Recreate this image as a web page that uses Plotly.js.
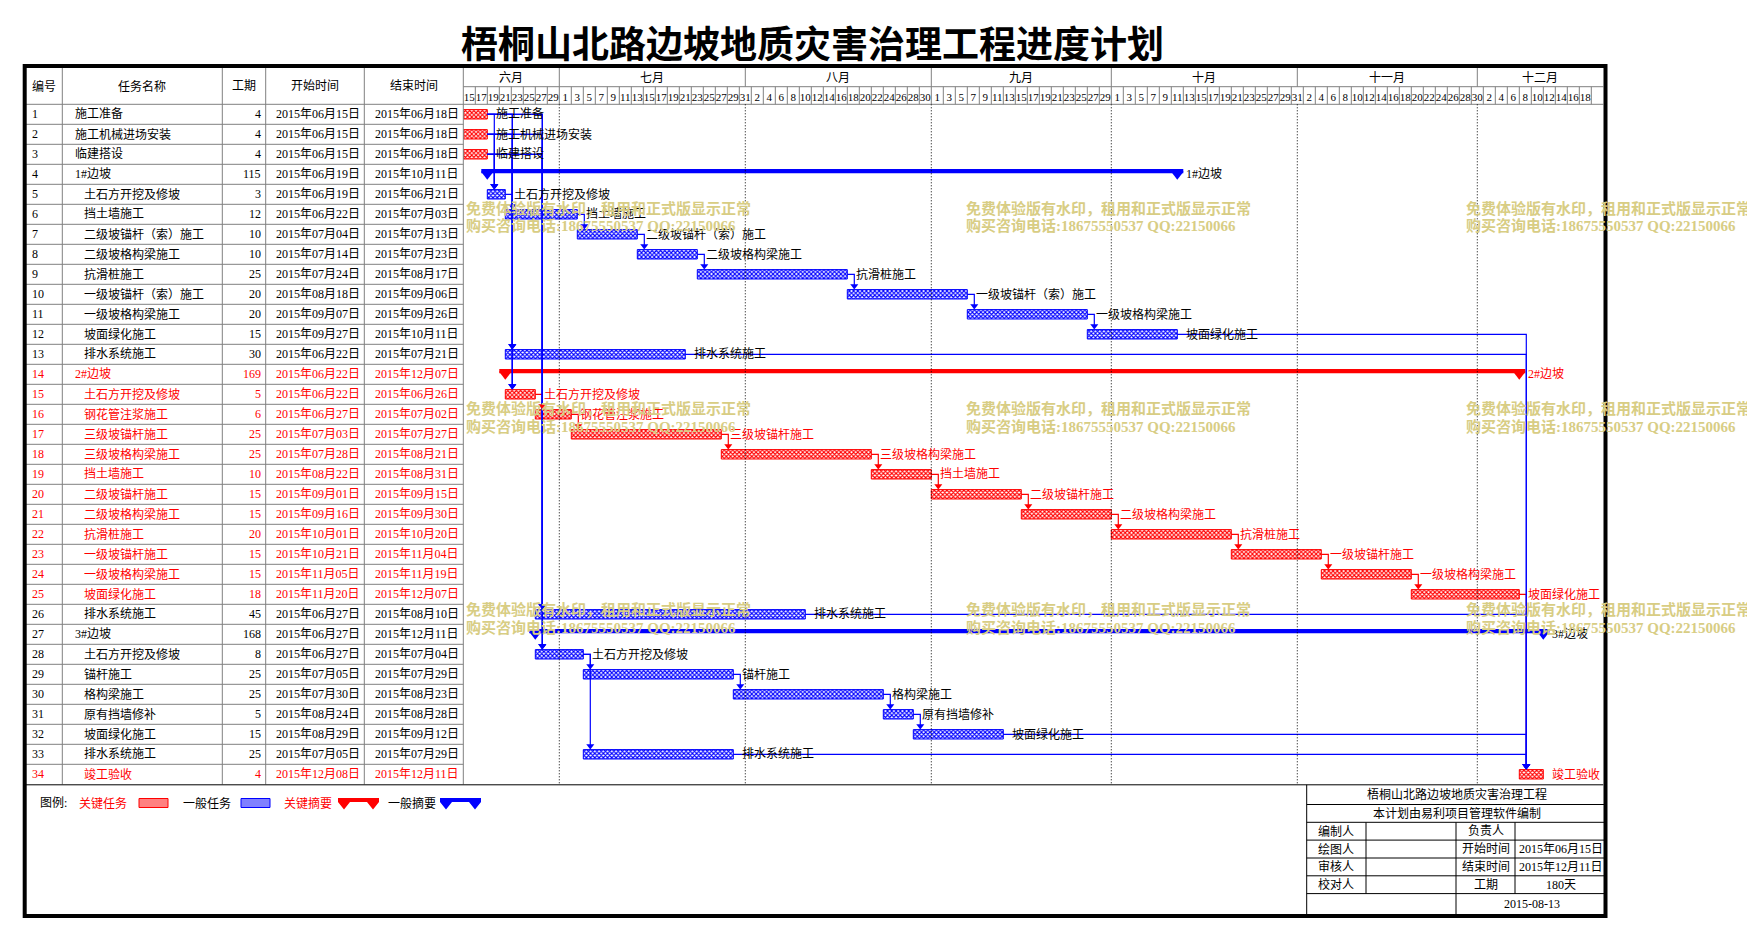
<!DOCTYPE html>
<html>
<head>
<meta charset="utf-8">
<script src="https://cdn.plot.ly/plotly-3.0.1.min.js"></script>
<style>html,body{margin:0;padding:0;background:#fff;}#chart{width:1747px;height:939px;}</style>
</head>
<body>
<div id="chart"></div>
<script>
// ---------------- DATA ----------------
const chartTitle = '梧桐山北路边坡地质灾害治理工程进度计划';
const tableHeaders = ['编号', '任务名称', '工期', '开始时间', '结束时间'];
const taskIds = [1,2,3,4,5,6,7,8,9,10,11,12,13,14,15,16,17,18,19,20,21,22,23,24,25,26,27,28,29,30,31,32,33,34];
const taskNames = ['施工准备','施工机械进场安装','临建搭设','1#边坡','土石方开挖及修坡','挡土墙施工',
  '二级坡锚杆（索）施工','二级坡格构梁施工','抗滑桩施工','一级坡锚杆（索）施工','一级坡格构梁施工',
  '坡面绿化施工','排水系统施工','2#边坡','土石方开挖及修坡','钢花管注浆施工','三级坡锚杆施工',
  '三级坡格构梁施工','挡土墙施工','二级坡锚杆施工','二级坡格构梁施工','抗滑桩施工','一级坡锚杆施工',
  '一级坡格构梁施工','坡面绿化施工','排水系统施工','3#边坡','土石方开挖及修坡','锚杆施工','格构梁施工',
  '原有挡墙修补','坡面绿化施工','排水系统施工','竣工验收'];
const durations = [4,4,4,115,3,12,10,10,25,20,20,15,30,169,5,6,25,25,10,15,15,20,15,15,18,45,168,8,25,25,5,15,25,4];
const startDates = ['2015-06-15','2015-06-15','2015-06-15','2015-06-19','2015-06-19','2015-06-22','2015-07-04',
  '2015-07-14','2015-07-24','2015-08-18','2015-09-07','2015-09-27','2015-06-22','2015-06-22','2015-06-22',
  '2015-06-27','2015-07-03','2015-07-28','2015-08-22','2015-09-01','2015-09-16','2015-10-01','2015-10-21',
  '2015-11-05','2015-11-20','2015-06-27','2015-06-27','2015-06-27','2015-07-05','2015-07-30','2015-08-24',
  '2015-08-29','2015-07-05','2015-12-08'];
const endDates = ['2015-06-18','2015-06-18','2015-06-18','2015-10-11','2015-06-21','2015-07-03','2015-07-13',
  '2015-07-23','2015-08-17','2015-09-06','2015-09-26','2015-10-11','2015-07-21','2015-12-07','2015-06-26',
  '2015-07-02','2015-07-27','2015-08-21','2015-08-31','2015-09-15','2015-09-30','2015-10-20','2015-11-04',
  '2015-11-19','2015-12-07','2015-08-10','2015-12-11','2015-07-04','2015-07-29','2015-08-23','2015-08-28',
  '2015-09-12','2015-07-29','2015-12-11'];
const summaryIds = [4, 14, 27];
const topLevelIds = [1, 2, 3, 4, 14, 27];
const criticalTextIds = [14,15,16,17,18,19,20,21,22,23,24,25,34];
const criticalBarIds = [1,2,3,14,15,16,17,18,19,20,21,22,23,24,25,34];
const linkFrom = [1,1,1,1,1,2,2,2,2,2,3,3,3,3,3,5,6,7,8,9,10,11,12,13,15,16,17,18,19,20,21,22,23,24,25,26,28,28,29,30,31,32,33];
const linkTo   = [5,13,15,26,28,5,13,15,26,28,5,13,15,26,28,6,7,8,9,10,11,12,34,34,16,17,18,19,20,21,22,23,24,25,34,34,29,33,30,31,32,34,34];
const monthNames = ['六月','七月','八月','九月','十月','十一月','十二月'];
const monthStarts = ['2015-06-01','2015-07-01','2015-08-01','2015-09-01','2015-10-01','2015-11-01','2015-12-01'];
const viewStart = '2015-06-15';
const viewEnd = '2015-12-22';
const lastLabelledDay = '2015-12-18';
const legendTitle = '图例:';
const legendLabels = ['关键任务', '一般任务', '关键摘要', '一般摘要'];
const infoTitle = '梧桐山北路边坡地质灾害治理工程';
const infoNote = '本计划由易利项目管理软件编制';
const infoLabelsLeft = ['编制人', '绘图人', '审核人', '校对人'];
const infoLabelsRight = ['负责人', '开始时间', '结束时间', '工期'];
const infoValuesRight = ['', '2015年06月15日', '2015年12月11日', '180天'];
const infoDate = '2015-08-13';
const watermarkLine1 = '免费体验版有水印，租用和正式版显示正常';
const watermarkLine2 = '购买咨询电话:18675550537 QQ:22150066';

// ---------------- HELPERS ----------------
const W = 1747, H = 939;
const px = x => x / W;
const py = y => 1 - y / H;
const DAY = 86400000;
const toMs = s => Date.parse(s + 'T00:00:00Z');
const fmt = ms => new Date(ms).toISOString().slice(0, 19).replace('T', ' ');
const RED = '#ff0000', BLUE = '#0000ff', GRAY = '#808080', BLACK = '#000000';
const FONT = 'Liberation Serif, "Noto Sans CJK SC", serif';
const CJK = '"Noto Sans CJK SC", sans-serif';

const X_LEFT = 463.3, X_RIGHT = 1603.3;
const Y_TOP = 104.3, ROW_H = 20;
const nRows = taskIds.length;
const Y_BOT = Y_TOP + ROW_H * nRows;
const spanDays = (toMs(viewEnd) - toMs(viewStart)) / DAY;
const pxPerDay = (X_RIGHT - X_LEFT) / spanDays;

const startMs = startDates.map(toMs);
const endExcl = endDates.map(s => toMs(s) + DAY);
const isSummary = taskIds.map(id => summaryIds.includes(id));
const textCrit = taskIds.map(id => criticalTextIds.includes(id));
const barCrit = taskIds.map(id => criticalBarIds.includes(id));
const idx = id => taskIds.indexOf(id);
const tableDate = s => s.slice(0, 4) + '年' + s.slice(5, 7) + '月' + s.slice(8, 10) + '日';

// ---------------- TRACES ----------------
const traces = [];
function taskBars(crit) {
  const sel = taskIds.map((_, i) => i).filter(i => !isSummary[i] && barCrit[i] === crit);
  const col = crit ? RED : BLUE;
  return {
    type: 'bar', orientation: 'h', xaxis: 'x', yaxis: 'y',
    y: sel.map(i => taskIds[i]),
    base: sel.map(i => startDates[i]),
    x: sel.map(i => durations[i] * DAY),
    width: 0.47,
    marker: { color: '#ffffff', line: { color: col, width: 1 },
      pattern: { shape: 'x', fgcolor: col, bgcolor: '#ffffff', size: 3, solidity: 0.6, fillmode: 'replace' } },
    hoverinfo: 'skip', showlegend: false
  };
}
function summaryBars(crit) {
  const sel = taskIds.map((_, i) => i).filter(i => isSummary[i] && barCrit[i] === crit);
  const col = crit ? RED : BLUE;
  return [{
    type: 'bar', orientation: 'h', xaxis: 'x', yaxis: 'y',
    y: sel.map(i => taskIds[i]),
    base: sel.map(i => fmt(startMs[i] - DAY)),
    x: sel.map(i => (durations[i] + 2) * DAY),
    width: 0.22, offset: -0.27,
    marker: { color: col, line: { width: 0 } },
    hoverinfo: 'skip', showlegend: false
  }, {
    type: 'scatter', mode: 'markers', xaxis: 'x', yaxis: 'y',
    x: sel.flatMap(i => [startDates[i], fmt(endExcl[i])]),
    y: sel.flatMap(i => [taskIds[i], taskIds[i]]),
    marker: { symbol: 'triangle-down', size: 11, color: col, line: { width: 0 } },
    hoverinfo: 'skip', showlegend: false
  }];
}
traces.push(taskBars(true), taskBars(false));
traces.push(...summaryBars(true), ...summaryBars(false));

// dependency links
const shiftMs = 7 / pxPerDay * DAY;
const linkSets = { red: { x: [], y: [], ax: [], ay: [] }, blue: { x: [], y: [], ax: [], ay: [] } };
linkFrom.forEach((a, k) => {
  const b = linkTo[k];
  const ia = idx(a), ib = idx(b);
  const set = (textCrit[ia] && textCrit[ib]) ? linkSets.red : linkSets.blue;
  const xa = fmt(endExcl[ia]);
  const xb = fmt(startMs[ib] + shiftMs);
  const yb = taskIds[ib] - 0.41;
  set.x.push(xa, xb, xb, null);
  set.y.push(taskIds[ia], taskIds[ia], yb, null);
  set.ax.push(xb); set.ay.push(yb);
});
[['red', RED], ['blue', BLUE]].forEach(([k, col]) => {
  traces.push({ type: 'scatter', mode: 'lines', xaxis: 'x', yaxis: 'y', x: linkSets[k].x, y: linkSets[k].y,
    line: { color: col, width: 1.2 }, hoverinfo: 'skip', showlegend: false, connectgaps: false });
});
[['red', RED], ['blue', BLUE]].forEach(([k, col]) => {
  traces.push({ type: 'scatter', mode: 'markers', xaxis: 'x', yaxis: 'y', x: linkSets[k].ax, y: linkSets[k].ay,
    marker: { symbol: 'triangle-down', size: 7, color: col, line: { width: 0 } }, hoverinfo: 'skip', showlegend: false });
});

// ---------------- AXIS TICKS (day row) ----------------
const tickVals = [], tickText = [];
for (let t = toMs(viewStart); t <= toMs(lastLabelledDay); t += 2 * DAY) {
  tickVals.push(fmt(t + DAY));
  tickText.push(String(new Date(t).getUTCDate()));
}

// ---------------- SHAPES ----------------
const shapes = [];
function hline(y, x0, x1, color, width) {
  shapes.push({ type: 'line', xref: 'paper', yref: 'paper', x0: px(x0), x1: px(x1), y0: py(y), y1: py(y),
    line: { color: color, width: width || 1 } });
}
function vline(x, y0, y1, color, width) {
  shapes.push({ type: 'line', xref: 'paper', yref: 'paper', x0: px(x), x1: px(x), y0: py(y0), y1: py(y1),
    line: { color: color, width: width || 1 } });
}
function vlineDate(d, y0, y1, color, dash) {
  shapes.push({ type: 'line', xref: 'x', yref: 'paper', x0: d, x1: d, y0: py(y0), y1: py(y1),
    line: { color: color, width: 1, dash: dash || 'solid' } });
}
// table grid
[62.3, 222.3, 265.7, 364.3, X_LEFT].forEach(x => vline(x, 68, Y_BOT, GRAY));
for (let k = 1; k < nRows; k++) hline(Y_TOP + k * ROW_H, 26, X_LEFT, GRAY);
hline(Y_TOP, 26, X_RIGHT, GRAY);
hline(86.7, X_LEFT, X_RIGHT, GRAY);
// month lines and dotted month lines
monthStarts.slice(1).forEach(m => {
  vlineDate(m, 68, 86.7, GRAY);
  vlineDate(m, Y_TOP, Y_BOT, BLACK, '1px,2px');
});
// day cells
for (let t = toMs(viewStart) + 2 * DAY; t < toMs(viewEnd); t += 2 * DAY) vlineDate(fmt(t), 86.7, Y_TOP, GRAY);
// bottom separator
hline(Y_BOT + 0.5, 26, X_RIGHT, BLACK, 1);
// info box
const IB = { x0: 1306.7, c1: 1366, c2: 1456, c3: 1515, x1: 1605 };
const ibRows = [785, 804.5, 822.3, 840.1, 858, 875.8, 893.6, 915];
vline(IB.x0, Y_BOT + 0.5, 915, BLACK);
ibRows.slice(1, 7).forEach(y => hline(y, IB.x0, IB.x1, BLACK));
vline(IB.c1, 822.3, 893.6, BLACK);
vline(IB.c3, 822.3, 893.6, BLACK);
vline(IB.c2, 822.3, 915, BLACK);
// frame
shapes.push({ type: 'rect', xref: 'paper', yref: 'paper', x0: px(24.7), x1: px(1605.5), y0: py(66), y1: py(916),
  line: { color: BLACK, width: 4 }, fillcolor: 'rgba(0,0,0,0)' });
// legend swatches
function pathPx(pts) {
  return 'M' + pts.map(p => px(p[0]) + ',' + py(p[1])).join(' L') + ' Z';
}
function legendTask(x0, col, fill) {
  shapes.push({ type: 'rect', xref: 'paper', yref: 'paper', x0: px(x0), x1: px(x0 + 29), y0: py(798.5), y1: py(807.5),
    line: { color: col, width: 1 }, fillcolor: fill });
}
function legendSummary(x0, col) {
  const x1 = x0 + 41;
  shapes.push({ type: 'path', xref: 'paper', yref: 'paper', line: { width: 0 }, fillcolor: col,
    path: pathPx([[x0, 798], [x1, 798], [x1, 802], [x1 - 6, 809.5], [x1 - 12, 802], [x0 + 12, 802], [x0 + 6, 809.5], [x0, 802]]) });
}
legendTask(139, RED, '#ff8080');
legendTask(241, BLUE, '#8080ff');
legendSummary(338, RED);
legendSummary(440, BLUE);

// ---------------- ANNOTATIONS ----------------
const ann = [];
function txt(text, x, y, opts) {
  opts = opts || {};
  ann.push(Object.assign({ text: text, x: x, y: y, xref: 'paper', yref: 'paper', showarrow: false,
    xanchor: 'center', yanchor: 'middle', font: { family: FONT, size: 12, color: BLACK } }, opts));
}
// title
txt(chartTitle, px(812), py(42), { font: { family: CJK, size: 37, color: BLACK, weight: 700 } });
// table header
const headerX = [44, 142.3, 244, 315, 413.8];
tableHeaders.forEach((h, k) => txt(h, px(headerX[k]), py(86)));
// table rows
taskIds.forEach((id, i) => {
  const col = textCrit[i] ? RED : BLACK;
  const f = { family: FONT, size: 12, color: col };
  const rowY = { yref: 'y' };
  txt(String(id), px(30), id, Object.assign({ xanchor: 'left', font: f }, rowY));
  txt(taskNames[i], px(topLevelIds.includes(id) ? 73 : 82), id, Object.assign({ xanchor: 'left', font: f }, rowY));
  txt(String(durations[i]), px(263), id, Object.assign({ xanchor: 'right', font: f }, rowY));
  txt(tableDate(startDates[i]), px(361.5), id, Object.assign({ xanchor: 'right', font: f }, rowY));
  txt(tableDate(endDates[i]), px(460.5), id, Object.assign({ xanchor: 'right', font: f }, rowY));
  // bar label
  ann.push({ text: taskNames[i], x: fmt(endExcl[i]), y: id, xref: 'x', yref: 'y', xanchor: 'left', yanchor: 'middle',
    xshift: 7, showarrow: false, font: f });
});
// month labels
monthNames.forEach((m, k) => {
  const a = Math.max(toMs(monthStarts[k]), toMs(viewStart));
  const b = k + 1 < monthStarts.length ? toMs(monthStarts[k + 1]) : toMs(viewEnd);
  ann.push({ text: m, x: fmt((a + b) / 2), y: py(77.5), xref: 'x', yref: 'paper', showarrow: false,
    xanchor: 'center', yanchor: 'middle', font: { family: FONT, size: 12, color: BLACK } });
});
// legend texts
txt(legendTitle, px(38), py(803), { xanchor: 'left' });
const legendX = [77, 181, 282, 386];
legendLabels.forEach((l, k) => txt(l, px(legendX[k]), py(803), { xanchor: 'left',
  font: { family: FONT, size: 12, color: k % 2 === 0 ? RED : BLACK } }));
// info box texts
const ibMid = (a, b) => (a + b) / 2;
txt(infoTitle, px(ibMid(IB.x0, 1607)), py(ibMid(ibRows[0], ibRows[1])));
txt(infoNote, px(ibMid(IB.x0, 1607)), py(ibMid(ibRows[1], ibRows[2])));
infoLabelsLeft.forEach((l, k) => {
  const yc = py(ibMid(ibRows[2 + k], ibRows[3 + k]));
  txt(l, px(ibMid(IB.x0, IB.c1)), yc);
  txt(infoLabelsRight[k], px(ibMid(IB.c2, IB.c3)), yc);
  txt(infoValuesRight[k], px(ibMid(IB.c3, 1607)), yc);
});
txt(infoDate, px(ibMid(IB.c2, 1607)), py(ibMid(ibRows[6], ibRows[7])));
// watermarks
const wmCols = [464, 964, 1464];
const wmRows = [208, 408.5, 609];
wmRows.forEach(y => wmCols.forEach(x => {
  const f = { family: FONT, size: 15, color: 'rgb(216,205,132)', weight: 700 };
  txt(watermarkLine1, px(x), py(y), { xanchor: 'left', font: f });
  txt(watermarkLine2, px(x), py(y + 18), { xanchor: 'left', font: f });
}));

// ---------------- LAYOUT ----------------
const layout = {
  width: W, height: H, autosize: false,
  margin: { l: 0, r: 0, t: 0, b: 0, pad: 0 },
  paper_bgcolor: '#ffffff', plot_bgcolor: 'rgba(0,0,0,0)',
  showlegend: false, hovermode: false, barmode: 'overlay',
  xaxis: { type: 'date', domain: [px(X_LEFT), px(X_RIGHT)], range: [viewStart, viewEnd], side: 'top',
    tickmode: 'array', tickvals: tickVals, ticktext: tickText, tickangle: 0, ticks: '', ticklen: 0,
    showgrid: false, zeroline: false, showline: false, fixedrange: true,
    tickfont: { family: 'Liberation Serif, serif', size: 11, color: BLACK } },
  yaxis: { domain: [py(Y_BOT), py(Y_TOP)], range: [nRows + 0.5, 0.5], visible: false, fixedrange: true },
  shapes: shapes, annotations: ann
};
Plotly.newPlot('chart', traces, layout, { displayModeBar: false, staticPlot: true });
</script>
</body>
</html>
